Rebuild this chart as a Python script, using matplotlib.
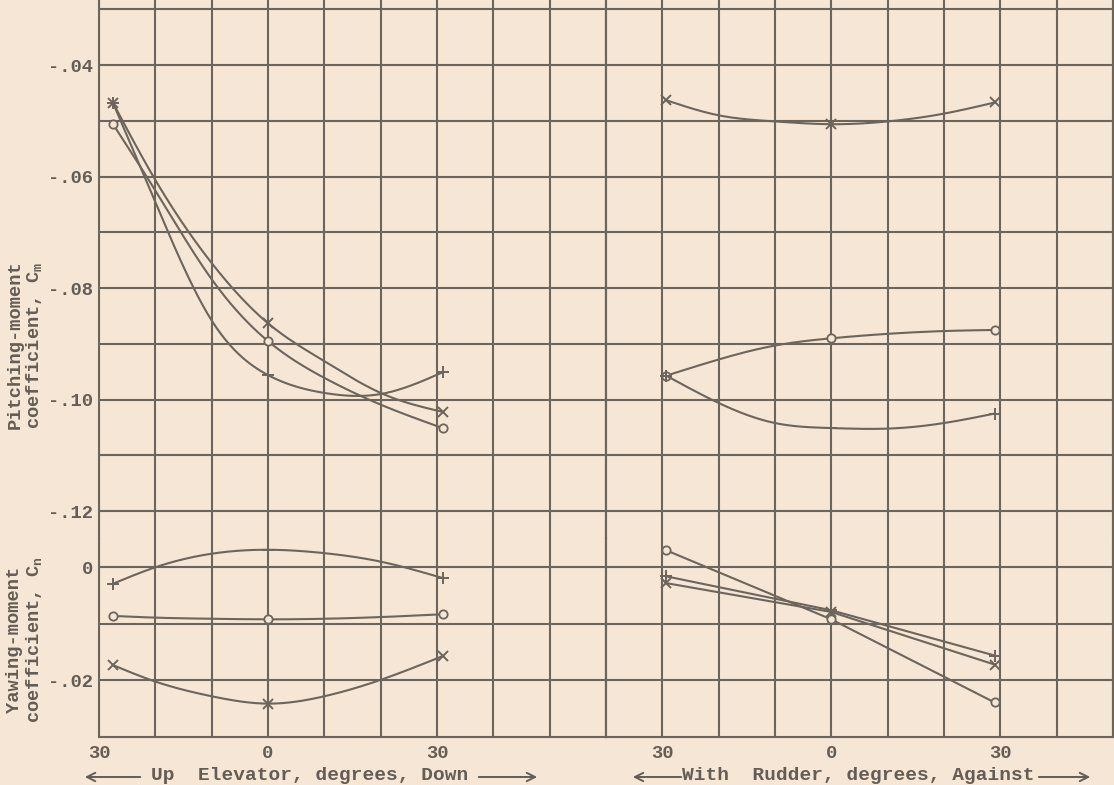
import matplotlib
matplotlib.use("Agg")
import matplotlib.pyplot as plt
import numpy as np

# elevator deflection, deg (negative = up), and rudder deflection (negative = with)
elev_defl = [-27.5, 0, 31]
rud_defl = [-29.3, 0, 29]

# faired-curve stations
elev_fair = [-27.5, -20, -10, 0, 10, 20, 31]
rud_fair = [-29.3, -20, -10, 0, 10, 20, 29]

# pitching-moment coefficient, elevator
cm_elev_o = [-0.0506, -0.0895, -0.1051]
cm_elev_p = [-0.0468, -0.0956, -0.0951]
cm_elev_x = [-0.0468, -0.0863, -0.1022]
cm_elev_o_fair = [-0.0506, -0.0625, -0.0784, -0.0895, -0.0961, -0.1009, -0.1051]
cm_elev_p_fair = [-0.0468, -0.0646, -0.0858, -0.0956, -0.0988, -0.0990, -0.0951]
cm_elev_x_fair = [-0.0468, -0.0606, -0.0755, -0.0863, -0.0931, -0.0988, -0.1022]

# pitching-moment coefficient, rudder
cm_rud_o = [-0.0957, -0.0890, -0.0875]
cm_rud_p = [-0.0957, -0.1051, -0.1025]
cm_rud_x = [-0.0463, -0.0506, -0.0467]
cm_rud_o_fair = [-0.0957, -0.0928, -0.0903, -0.0890, -0.0882, -0.0877, -0.0875]
cm_rud_p_fair = [-0.0957, -0.1006, -0.1042, -0.1051, -0.1052, -0.1042, -0.1025]
cm_rud_x_fair = [-0.0463, -0.0490, -0.0501, -0.0506, -0.0501, -0.0487, -0.0467]

# yawing-moment coefficient, elevator
cn_elev_o = [-0.0086, -0.0092, -0.0083]
cn_elev_p = [-0.0029, 0.0031, -0.0019]
cn_elev_x = [-0.0173, -0.0241, -0.0157]
cn_elev_o_fair = [-0.0086, -0.0089, -0.0091, -0.0092, -0.0091, -0.0088, -0.0083]
cn_elev_p_fair = [-0.0029, 0.0000, 0.0024, 0.0031, 0.0025, 0.0010, -0.0019]
cn_elev_x_fair = [-0.0173, -0.0202, -0.0228, -0.0241, -0.0228, -0.0199, -0.0157]

# yawing-moment coefficient, rudder (straight segments)
cn_rud_o = [0.0030, -0.0092, -0.0239]
cn_rud_p = [-0.0016, -0.0076, -0.0156]
cn_rud_x = [-0.0028, -0.0079, -0.0172]

cm_ticks = [-0.04, -0.06, -0.08, -0.10, -0.12]
cm_labels = ["-.04", "-.06", "-.08", "-.10", "-.12"]
cn_ticks = [0, -0.02]
cn_labels = ["0", "-.02"]
defl_ticks = [-30, 0, 30]
defl_labels = ["30", "0", "30"]

BG = "#f6e6d5"
INK = "#6d655b"
TXT = "#655d54"
FONT = ["Liberation Mono", "DejaVu Sans Mono"]

plt.rcParams["font.family"] = FONT
plt.rcParams["font.weight"] = "bold"
plt.rcParams["mathtext.fontset"] = "custom"
plt.rcParams["mathtext.rm"] = "Liberation Mono:bold"
plt.rcParams["mathtext.it"] = "Liberation Mono:bold"


def spline(x, y, n=300):
    # natural cubic spline through the faired stations
    x = np.asarray(x, float)
    y = np.asarray(y, float)
    h = np.diff(x)
    m = len(x)
    A = np.zeros((m, m))
    r = np.zeros(m)
    A[0, 0] = A[-1, -1] = 1
    for i in range(1, m - 1):
        A[i, i - 1] = h[i - 1]
        A[i, i] = 2 * (h[i - 1] + h[i])
        A[i, i + 1] = h[i]
        r[i] = 3 * ((y[i + 1] - y[i]) / h[i] - (y[i] - y[i - 1]) / h[i - 1])
    c = np.linalg.solve(A, r)
    b = (y[1:] - y[:-1]) / h - h * (2 * c[:-1] + c[1:]) / 3
    d = (c[1:] - c[:-1]) / (3 * h)
    xs = np.linspace(x[0], x[-1], n)
    i = np.clip(np.searchsorted(x, xs) - 1, 0, m - 2)
    t = xs - x[i]
    return xs, y[i] + b[i] * t + c[i] * t**2 + d[i] * t**3


W, H = 1114, 785
fig = plt.figure(figsize=(W / 100, H / 100), dpi=100, facecolor=BG)


def box(x0, y0, x1, y1):
    # pixel box (top-left origin) -> figure fraction rect
    return [x0 / W, 1 - y1 / H, (x1 - x0) / W, (y1 - y0) / H]


xl, xm, xr = 99, 99 + 9 * 56.33, 99 + 18 * 56.33
y_split, y_bot, y_top = 539, 737, -18.5

ax_cm_e = fig.add_axes(box(xl, y_top, xm, y_split))
ax_cm_r = fig.add_axes(box(xm, y_top, xr, y_split))
ax_cn_e = fig.add_axes(box(xl, y_split, xm, y_bot))
ax_cn_r = fig.add_axes(box(xm, y_split, xr, y_bot))

for ax in (ax_cm_e, ax_cm_r, ax_cn_e, ax_cn_r):
    ax.set_facecolor(BG)
    for s in ax.spines.values():
        s.set_color(INK)
        s.set_linewidth(1.5)
    ax.grid(True, color=INK, linewidth=1.5)
    ax.set_axisbelow(True)
    ax.tick_params(length=0, labelsize=13.5, colors=TXT, pad=4)

for ax in (ax_cm_e, ax_cm_r):
    ax.set_ylim(-0.125, -0.025)
    ax.set_yticks(np.arange(-0.12, -0.025, 0.01))
    ax.spines["bottom"].set_visible(False)
    ax.set_xticklabels([])
for ax in (ax_cn_e, ax_cn_r):
    ax.set_ylim(-0.03, 0.005)
    ax.set_yticks([-0.02, -0.01, 0.0])
    ax.spines["top"].set_visible(False)

for ax in (ax_cm_e, ax_cn_e):
    ax.set_xlim(-30, 60)
    ax.set_xticks(np.arange(-30, 61, 10))
for ax in (ax_cm_r, ax_cn_r):
    ax.set_xlim(-40, 50)
    ax.set_xticks(np.arange(-40, 51, 10))
    ax.set_yticklabels([])


def tick_text(ticks, labels, values):
    return [labels[ticks.index(v)] if v in ticks else "" for v in values]


cm_vals = [round(v, 2) for v in np.arange(-0.12, -0.025, 0.01)]
ax_cm_e.set_yticklabels(tick_text([round(v, 2) for v in cm_ticks], cm_labels, cm_vals),
                        fontweight="bold")
ax_cn_e.set_yticklabels(tick_text([round(v, 2) for v in cn_ticks], cn_labels, [-0.02, -0.01, 0.0]),
                        fontweight="bold")
ax_cn_e.set_xticklabels(tick_text(defl_ticks, defl_labels, list(range(-30, 61, 10))),
                        fontweight="bold")
ax_cn_r.set_xticklabels(tick_text(defl_ticks, defl_labels, list(range(-40, 51, 10))),
                        fontweight="bold")
ax_cn_e.tick_params(axis="x", pad=6)
ax_cn_r.tick_params(axis="x", pad=6)

lw = 1.5
mk_o = dict(marker="o", ms=6, mfc=BG, mec=INK, mew=1.3, ls="none")
mk_p = dict(marker="+", ms=8, mec=INK, mew=1.4, ls="none")
mk_x = dict(marker="x", ms=6.5, mec=INK, mew=1.4, ls="none")

# elevator, pitching moment
for fair, pts, mk in ((cm_elev_o_fair, cm_elev_o, mk_o),
                      (cm_elev_p_fair, cm_elev_p, mk_p),
                      (cm_elev_x_fair, cm_elev_x, mk_x)):
    xs, ys = spline(elev_fair, fair)
    ax_cm_e.plot(xs, ys, color=INK, lw=lw)
    ax_cm_e.plot(elev_defl, pts, **mk)

# rudder, pitching moment
for fair, pts, mk in ((cm_rud_o_fair, cm_rud_o, mk_o),
                      (cm_rud_p_fair, cm_rud_p, mk_p),
                      (cm_rud_x_fair, cm_rud_x, mk_x)):
    xs, ys = spline(rud_fair, fair)
    ax_cm_r.plot(xs, ys, color=INK, lw=lw)
    ax_cm_r.plot(rud_defl, pts, **mk)

# elevator, yawing moment
for fair, pts, mk in ((cn_elev_o_fair, cn_elev_o, mk_o),
                      (cn_elev_p_fair, cn_elev_p, mk_p),
                      (cn_elev_x_fair, cn_elev_x, mk_x)):
    xs, ys = spline(elev_fair, fair)
    ax_cn_e.plot(xs, ys, color=INK, lw=lw)
    ax_cn_e.plot(elev_defl, pts, **mk)

# rudder, yawing moment
for pts, mk in ((cn_rud_o, mk_o), (cn_rud_p, mk_p), (cn_rud_x, mk_x)):
    ax_cn_r.plot(rud_defl, pts, color=INK, lw=lw)
    ax_cn_r.plot(rud_defl, pts, **mk)

for ax in (ax_cm_e, ax_cm_r, ax_cn_e, ax_cn_r):
    for ln in ax.lines:
        ln.set_clip_on(False)


def ftext(x, y, s, **kw):
    fig.text(x / W, 1 - y / H, s, color=TXT, fontweight="bold", **kw)


ftext(15, 345, "Pitching-moment", rotation=90, ha="center", va="center", fontsize=13.5)
ftext(34, 345, r"coefficient, C$_\mathrm{m}$", rotation=90, ha="center", va="center", fontsize=13.5)
ftext(15, 640, "Yawing-moment", rotation=90, ha="center", va="center", fontsize=13.5)
ftext(34, 640, r"coefficient, C$_\mathrm{n}$", rotation=90, ha="center", va="center", fontsize=13.5)

ftext(310, 776, "Up  Elevator, degrees, Down", ha="center", va="center", fontsize=14)
ftext(858, 776, "With  Rudder, degrees, Against", ha="center", va="center", fontsize=14)


def arrow(x0, x1, y):
    fig.add_artist(matplotlib.patches.FancyArrowPatch(
        (x0 / W, 1 - y / H), (x1 / W, 1 - y / H), transform=fig.transFigure,
        arrowstyle="->,head_length=6,head_width=3", color=TXT, lw=1.4))


arrow(143, 82, 777)
arrow(476, 540, 777)
arrow(684, 630, 777)
arrow(1036, 1093, 777)

fig.savefig("out.png", dpi=100, facecolor=BG)
